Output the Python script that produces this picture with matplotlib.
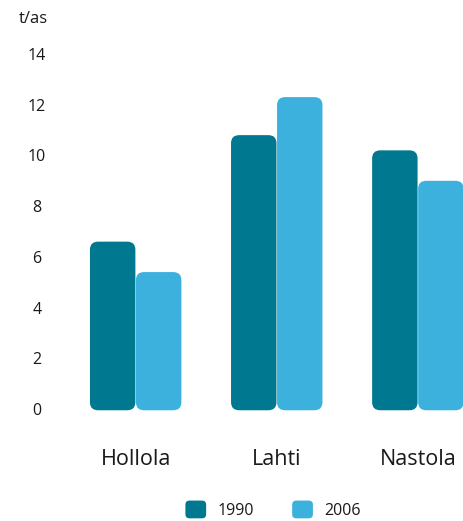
import matplotlib
matplotlib.use("Agg")
import matplotlib.pyplot as plt
from matplotlib.patches import FancyBboxPatch, Patch
from matplotlib.legend_handler import HandlerPatch
import numpy as np

municipalities = ["Hollola", "Lahti", "Nastola"]
years = ["1990", "2006"]
values_1990 = [6.6, 10.8, 10.2]
values_2006 = [5.4, 12.3, 9.0]
y_ticks = [0, 2, 4, 6, 8, 10, 12, 14]

colors = ["#00788f", "#3db1de"]
text_color = "#1a1a1a"

plt.rcParams["font.family"] = ["Open Sans", "DejaVu Sans"]

fig = plt.figure(figsize=(4.63, 5.21), dpi=100)
ax = fig.add_axes([51 / 463, 1 - 409 / 521, 1 - 51 / 463, 355 / 521])

x = np.arange(len(municipalities))
width = 0.322
gap = 0.004

bars = []
for i, (vals, col) in enumerate(zip([values_1990, values_2006], colors)):
    offset = (i - 0.5) * (width + gap)
    b = ax.bar(x + offset, vals, width, color="none", edgecolor="none")
    bars.append((b, col))

ax.set_xlim(-0.6, 2.32)
ax.set_ylim(0, 14)

# rounded bars drawn over the bar rectangles
radius = 0.058
aspect = (8 / 25.36) / radius
for b, col in bars:
    for p in b.patches:
        fb = FancyBboxPatch((p.get_x(), p.get_y() - 0.05), p.get_width(), p.get_height() + 0.05,
                            boxstyle=f"round,pad=0,rounding_size={radius}",
                            mutation_aspect=aspect, facecolor=col, edgecolor="none",
                            clip_on=False)
        ax.add_patch(fb)

for s in ax.spines.values():
    s.set_visible(False)
ax.set_yticks(y_ticks)
ax.set_yticklabels([str(t) for t in y_ticks], fontsize=11.5, color=text_color)
ax.tick_params(axis="y", length=0, pad=10)
for lbl in ax.get_yticklabels():
    lbl.set_horizontalalignment("center")
ax.set_xticks(x)
ax.set_xticklabels(municipalities, fontsize=15.5, color=text_color)
ax.tick_params(axis="x", length=0, pad=29)

fig.text(33 / 463, 1 - 19 / 521, "t/as", fontsize=12, ha="center", va="center", color=text_color)


def rounded_square(legend, orig_handle, xdescent, ydescent, width, height, fontsize):
    return FancyBboxPatch((-xdescent, -ydescent - 2), width, height + 4,
                          boxstyle="round,pad=0,rounding_size=3")


handles = [Patch(facecolor=c, edgecolor="none") for c in colors]
fig.legend(handles, years, loc="center", bbox_to_anchor=(273 / 463, 1 - 511 / 521),
           ncol=2, frameon=False, fontsize=11.5, handlelength=1.3, handleheight=0.8,
           handletextpad=0.7, columnspacing=2.4,
           handler_map={Patch: HandlerPatch(patch_func=rounded_square)},
           labelcolor=text_color)

fig.savefig("out.png", dpi=100)
